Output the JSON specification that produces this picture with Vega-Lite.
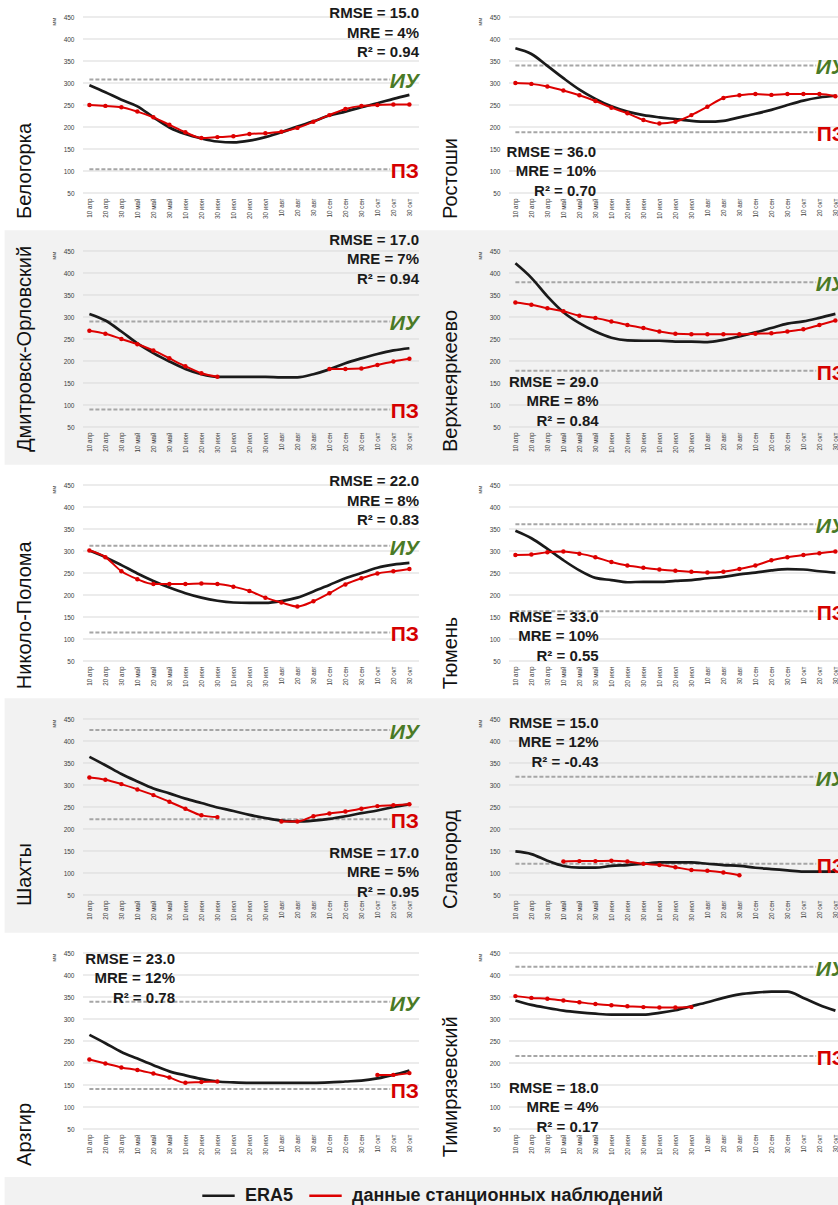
{
"$schema":"https://vega.github.io/schema/vega-lite/v6.json",
"background":"white",
"padding":{"left":4,"top":6,"right":0,"bottom":0},
"bounds":"flush",
"columns":2,
"spacing":{"row":58,"column":90},
"params":[{"name":"lab","value":["10 апр","20 апр","30 апр","10 май","20 май","30 май","10 июн","20 июн","30 июн","10 июл","20 июл","30 июл","10 авг","20 авг","30 авг","10 сен","20 сен","30 сен","10 окт","20 окт","30 окт"]}],
"config":{
"view":{"stroke":null},
"font":"Liberation Sans",
"axis":{"domain":false,"ticks":false,"grid":false,"labelFont":"Liberation Sans","titleFont":"Liberation Sans","labelFontSize":6.5,"labelColor":"#404040","labelFlush":false,"labelOverlap":false,"labelBound":false,"titleFontSize":6,"titleFontWeight":"normal","titleColor":"#404040"},
"axisX":{"labelAngle":270,"labelFontSize":6.3,"labelPadding":5},
"axisY":{"labelPadding":9,"titleAnchor":"end","titlePadding":7},
"legend":{"orient":"none","legendX":118,"legendY":1161,"direction":"horizontal","labelFont":"Liberation Sans","labelFontSize":18,"labelFontWeight":"bold","labelColor":"#1a1a1a","labelLimit":500,"symbolType":"stroke","symbolSize":1050,"symbolStrokeWidth":2.5,"labelOffset":9,"columnPadding":10,"padding":0}
},
"datasets":{
"grid":[{"v":50},{"v":100},{"v":150},{"v":200},{"v":250},{"v":300},{"v":350},{"v":400},{"v":450}],
"thr":[
{"st":"Белогорка","k":"ИУ","v":308},{"st":"Белогорка","k":"ПЗ","v":104},
{"st":"Ростоши","k":"ИУ","v":340},{"st":"Ростоши","k":"ПЗ","v":188},
{"st":"Дмитровск-Орловский","k":"ИУ","v":290},{"st":"Дмитровск-Орловский","k":"ПЗ","v":90},
{"st":"Верхнеяркеево","k":"ИУ","v":379},{"st":"Верхнеяркеево","k":"ПЗ","v":178},
{"st":"Николо-Полома","k":"ИУ","v":312},{"st":"Николо-Полома","k":"ПЗ","v":115},
{"st":"Тюмень","k":"ИУ","v":361},{"st":"Тюмень","k":"ПЗ","v":163},
{"st":"Шахты","k":"ИУ","v":425},{"st":"Шахты","k":"ПЗ","v":222},
{"st":"Славгород","k":"ИУ","v":319},{"st":"Славгород","k":"ПЗ","v":121},
{"st":"Арзгир","k":"ИУ","v":339},{"st":"Арзгир","k":"ПЗ","v":141},
{"st":"Тимирязевский","k":"ИУ","v":419},{"st":"Тимирязевский","k":"ПЗ","v":216}],
"stat":[
{"st":"Белогорка","t":"RMSE = 15.0\nMRE = 4%\nR² = 0.94"},
{"st":"Ростоши","t":"RMSE = 36.0\nMRE = 10%\nR² = 0.70"},
{"st":"Дмитровск-Орловский","t":"RMSE = 17.0\nMRE = 7%\nR² = 0.94"},
{"st":"Верхнеяркеево","t":"RMSE = 29.0\nMRE = 8%\nR² = 0.84"},
{"st":"Николо-Полома","t":"RMSE = 22.0\nMRE = 8%\nR² = 0.83"},
{"st":"Тюмень","t":"RMSE = 33.0\nMRE = 10%\nR² = 0.55"},
{"st":"Шахты","t":"RMSE = 17.0\nMRE = 5%\nR² = 0.95"},
{"st":"Славгород","t":"RMSE =  15.0\nMRE = 12%\nR² = -0.43"},
{"st":"Арзгир","t":"RMSE = 23.0\nMRE = 12%\nR² = 0.78"},
{"st":"Тимирязевский","t":"RMSE = 18.0\nMRE = 4%\nR² = 0.17"}],
"era":[
{"st":"Белогорка","i":1,"v":295},{"st":"Белогорка","i":2,"v":279},{"st":"Белогорка","i":3,"v":262},{"st":"Белогорка","i":4,"v":247},{"st":"Белогорка","i":5,"v":222},{"st":"Белогорка","i":6,"v":199},{"st":"Белогорка","i":7,"v":184},{"st":"Белогорка","i":8,"v":174},{"st":"Белогорка","i":9,"v":167},{"st":"Белогорка","i":10,"v":165},{"st":"Белогорка","i":11,"v":169},{"st":"Белогорка","i":12,"v":177},{"st":"Белогорка","i":13,"v":188},{"st":"Белогорка","i":14,"v":201},{"st":"Белогорка","i":15,"v":213},{"st":"Белогорка","i":16,"v":226},{"st":"Белогорка","i":17,"v":235},{"st":"Белогорка","i":18,"v":245},{"st":"Белогорка","i":19,"v":254},{"st":"Белогорка","i":20,"v":264},{"st":"Белогорка","i":21,"v":273},
{"st":"Ростоши","i":1,"v":379},{"st":"Ростоши","i":2,"v":366},{"st":"Ростоши","i":3,"v":339},{"st":"Ростоши","i":4,"v":311},{"st":"Ростоши","i":5,"v":285},{"st":"Ростоши","i":6,"v":264},{"st":"Ростоши","i":7,"v":247},{"st":"Ростоши","i":8,"v":235},{"st":"Ростоши","i":9,"v":227},{"st":"Ростоши","i":10,"v":222},{"st":"Ростоши","i":11,"v":218},{"st":"Ростоши","i":12,"v":214},{"st":"Ростоши","i":13,"v":212},{"st":"Ростоши","i":14,"v":214},{"st":"Ростоши","i":15,"v":222},{"st":"Ростоши","i":16,"v":230},{"st":"Ростоши","i":17,"v":239},{"st":"Ростоши","i":18,"v":250},{"st":"Ростоши","i":19,"v":260},{"st":"Ростоши","i":20,"v":267},{"st":"Ростоши","i":21,"v":271},
{"st":"Дмитровск-Орловский","i":1,"v":307},{"st":"Дмитровск-Орловский","i":2,"v":292},{"st":"Дмитровск-Орловский","i":3,"v":267},{"st":"Дмитровск-Орловский","i":4,"v":240},{"st":"Дмитровск-Орловский","i":5,"v":218},{"st":"Дмитровск-Орловский","i":6,"v":199},{"st":"Дмитровск-Орловский","i":7,"v":182},{"st":"Дмитровск-Орловский","i":8,"v":170},{"st":"Дмитровск-Орловский","i":9,"v":164},{"st":"Дмитровск-Орловский","i":10,"v":164},{"st":"Дмитровск-Орловский","i":11,"v":164},{"st":"Дмитровск-Орловский","i":12,"v":164},{"st":"Дмитровск-Орловский","i":13,"v":163},{"st":"Дмитровск-Орловский","i":14,"v":163},{"st":"Дмитровск-Орловский","i":15,"v":170},{"st":"Дмитровск-Орловский","i":16,"v":181},{"st":"Дмитровск-Орловский","i":17,"v":195},{"st":"Дмитровск-Орловский","i":18,"v":206},{"st":"Дмитровск-Орловский","i":19,"v":216},{"st":"Дмитровск-Орловский","i":20,"v":224},{"st":"Дмитровск-Орловский","i":21,"v":229},
{"st":"Верхнеяркеево","i":1,"v":422},{"st":"Верхнеяркеево","i":2,"v":389},{"st":"Верхнеяркеево","i":3,"v":347},{"st":"Верхнеяркеево","i":4,"v":311},{"st":"Верхнеяркеево","i":5,"v":286},{"st":"Верхнеяркеево","i":6,"v":267},{"st":"Верхнеяркеево","i":7,"v":253},{"st":"Верхнеяркеево","i":8,"v":247},{"st":"Верхнеяркеево","i":9,"v":246},{"st":"Верхнеяркеево","i":10,"v":246},{"st":"Верхнеяркеево","i":11,"v":244},{"st":"Верхнеяркеево","i":12,"v":244},{"st":"Верхнеяркеево","i":13,"v":243},{"st":"Верхнеяркеево","i":14,"v":248},{"st":"Верхнеяркеево","i":15,"v":256},{"st":"Верхнеяркеево","i":16,"v":265},{"st":"Верхнеяркеево","i":17,"v":275},{"st":"Верхнеяркеево","i":18,"v":285},{"st":"Верхнеяркеево","i":19,"v":290},{"st":"Верхнеяркеево","i":20,"v":298},{"st":"Верхнеяркеево","i":21,"v":307},
{"st":"Николо-Полома","i":1,"v":301},{"st":"Николо-Полома","i":2,"v":286},{"st":"Николо-Полома","i":3,"v":268},{"st":"Николо-Полома","i":4,"v":249},{"st":"Николо-Полома","i":5,"v":232},{"st":"Николо-Полома","i":6,"v":217},{"st":"Николо-Полома","i":7,"v":204},{"st":"Николо-Полома","i":8,"v":194},{"st":"Николо-Полома","i":9,"v":187},{"st":"Николо-Полома","i":10,"v":183},{"st":"Николо-Полома","i":11,"v":182},{"st":"Николо-Полома","i":12,"v":182},{"st":"Николо-Полома","i":13,"v":186},{"st":"Николо-Полома","i":14,"v":194},{"st":"Николо-Полома","i":15,"v":208},{"st":"Николо-Полома","i":16,"v":223},{"st":"Николо-Полома","i":17,"v":238},{"st":"Николо-Полома","i":18,"v":250},{"st":"Николо-Полома","i":19,"v":262},{"st":"Николо-Полома","i":20,"v":269},{"st":"Николо-Полома","i":21,"v":273},
{"st":"Тюмень","i":1,"v":346},{"st":"Тюмень","i":2,"v":329},{"st":"Тюмень","i":3,"v":305},{"st":"Тюмень","i":4,"v":279},{"st":"Тюмень","i":5,"v":256},{"st":"Тюмень","i":6,"v":239},{"st":"Тюмень","i":7,"v":234},{"st":"Тюмень","i":8,"v":229},{"st":"Тюмень","i":9,"v":230},{"st":"Тюмень","i":10,"v":230},{"st":"Тюмень","i":11,"v":232},{"st":"Тюмень","i":12,"v":234},{"st":"Тюмень","i":13,"v":238},{"st":"Тюмень","i":14,"v":241},{"st":"Тюмень","i":15,"v":247},{"st":"Тюмень","i":16,"v":251},{"st":"Тюмень","i":17,"v":256},{"st":"Тюмень","i":18,"v":259},{"st":"Тюмень","i":19,"v":258},{"st":"Тюмень","i":20,"v":254},{"st":"Тюмень","i":21,"v":251},
{"st":"Шахты","i":1,"v":364},{"st":"Шахты","i":2,"v":345},{"st":"Шахты","i":3,"v":325},{"st":"Шахты","i":4,"v":308},{"st":"Шахты","i":5,"v":292},{"st":"Шахты","i":6,"v":281},{"st":"Шахты","i":7,"v":269},{"st":"Шахты","i":8,"v":259},{"st":"Шахты","i":9,"v":249},{"st":"Шахты","i":10,"v":241},{"st":"Шахты","i":11,"v":232},{"st":"Шахты","i":12,"v":225},{"st":"Шахты","i":13,"v":219},{"st":"Шахты","i":14,"v":217},{"st":"Шахты","i":15,"v":219},{"st":"Шахты","i":16,"v":223},{"st":"Шахты","i":17,"v":229},{"st":"Шахты","i":18,"v":236},{"st":"Шахты","i":19,"v":242},{"st":"Шахты","i":20,"v":250},{"st":"Шахты","i":21,"v":256},
{"st":"Славгород","i":1,"v":149},{"st":"Славгород","i":2,"v":143},{"st":"Славгород","i":3,"v":128},{"st":"Славгород","i":4,"v":116},{"st":"Славгород","i":5,"v":112},{"st":"Славгород","i":6,"v":112},{"st":"Славгород","i":7,"v":116},{"st":"Славгород","i":8,"v":118},{"st":"Славгород","i":9,"v":121},{"st":"Славгород","i":10,"v":124},{"st":"Славгород","i":11,"v":124},{"st":"Славгород","i":12,"v":124},{"st":"Славгород","i":13,"v":121},{"st":"Славгород","i":14,"v":118},{"st":"Славгород","i":15,"v":116},{"st":"Славгород","i":16,"v":112},{"st":"Славгород","i":17,"v":109},{"st":"Славгород","i":18,"v":106},{"st":"Славгород","i":19,"v":103},{"st":"Славгород","i":20,"v":103},{"st":"Славгород","i":21,"v":103},
{"st":"Арзгир","i":1,"v":264},{"st":"Арзгир","i":2,"v":245},{"st":"Арзгир","i":3,"v":225},{"st":"Арзгир","i":4,"v":210},{"st":"Арзгир","i":5,"v":195},{"st":"Арзгир","i":6,"v":181},{"st":"Арзгир","i":7,"v":172},{"st":"Арзгир","i":8,"v":164},{"st":"Арзгир","i":9,"v":158},{"st":"Арзгир","i":10,"v":156},{"st":"Арзгир","i":11,"v":155},{"st":"Арзгир","i":12,"v":155},{"st":"Арзгир","i":13,"v":155},{"st":"Арзгир","i":14,"v":155},{"st":"Арзгир","i":15,"v":155},{"st":"Арзгир","i":16,"v":156},{"st":"Арзгир","i":17,"v":158},{"st":"Арзгир","i":18,"v":160},{"st":"Арзгир","i":19,"v":165},{"st":"Арзгир","i":20,"v":173},{"st":"Арзгир","i":21,"v":183},
{"st":"Тимирязевский","i":1,"v":342},{"st":"Тимирязевский","i":2,"v":332},{"st":"Тимирязевский","i":3,"v":325},{"st":"Тимирязевский","i":4,"v":319},{"st":"Тимирязевский","i":5,"v":315},{"st":"Тимирязевский","i":6,"v":312},{"st":"Тимирязевский","i":7,"v":310},{"st":"Тимирязевский","i":8,"v":310},{"st":"Тимирязевский","i":9,"v":310},{"st":"Тимирязевский","i":10,"v":314},{"st":"Тимирязевский","i":11,"v":320},{"st":"Тимирязевский","i":12,"v":329},{"st":"Тимирязевский","i":13,"v":338},{"st":"Тимирязевский","i":14,"v":348},{"st":"Тимирязевский","i":15,"v":356},{"st":"Тимирязевский","i":16,"v":360},{"st":"Тимирязевский","i":17,"v":362},{"st":"Тимирязевский","i":18,"v":362},{"st":"Тимирязевский","i":19,"v":348},{"st":"Тимирязевский","i":20,"v":332},{"st":"Тимирязевский","i":21,"v":319}],
"obs":[
{"st":"Белогорка","g":1,"i":1,"v":250},{"st":"Белогорка","g":1,"i":2,"v":248},{"st":"Белогорка","g":1,"i":3,"v":245},{"st":"Белогорка","g":1,"i":4,"v":235},{"st":"Белогорка","g":1,"i":5,"v":222},{"st":"Белогорка","g":1,"i":6,"v":205},{"st":"Белогорка","g":1,"i":7,"v":188},{"st":"Белогорка","g":1,"i":8,"v":175},{"st":"Белогорка","g":1,"i":9,"v":177},{"st":"Белогорка","g":1,"i":10,"v":179},{"st":"Белогорка","g":1,"i":11,"v":184},{"st":"Белогорка","g":1,"i":12,"v":186},{"st":"Белогорка","g":1,"i":13,"v":189},{"st":"Белогорка","g":1,"i":14,"v":198},{"st":"Белогорка","g":1,"i":15,"v":212},{"st":"Белогорка","g":1,"i":16,"v":227},{"st":"Белогорка","g":1,"i":17,"v":241},{"st":"Белогорка","g":1,"i":18,"v":248},{"st":"Белогорка","g":1,"i":19,"v":250},{"st":"Белогорка","g":1,"i":20,"v":251},{"st":"Белогорка","g":1,"i":21,"v":251},
{"st":"Ростоши","g":1,"i":1,"v":300},{"st":"Ростоши","g":1,"i":2,"v":298},{"st":"Ростоши","g":1,"i":3,"v":292},{"st":"Ростоши","g":1,"i":4,"v":283},{"st":"Ростоши","g":1,"i":5,"v":272},{"st":"Ростоши","g":1,"i":6,"v":259},{"st":"Ростоши","g":1,"i":7,"v":244},{"st":"Ростоши","g":1,"i":8,"v":231},{"st":"Ростоши","g":1,"i":9,"v":216},{"st":"Ростоши","g":1,"i":10,"v":208},{"st":"Ростоши","g":1,"i":11,"v":212},{"st":"Ростоши","g":1,"i":12,"v":227},{"st":"Ростоши","g":1,"i":13,"v":246},{"st":"Ростоши","g":1,"i":14,"v":266},{"st":"Ростоши","g":1,"i":15,"v":272},{"st":"Ростоши","g":1,"i":16,"v":275},{"st":"Ростоши","g":1,"i":17,"v":273},{"st":"Ростоши","g":1,"i":18,"v":275},{"st":"Ростоши","g":1,"i":19,"v":275},{"st":"Ростоши","g":1,"i":20,"v":275},{"st":"Ростоши","g":1,"i":21,"v":270},
{"st":"Дмитровск-Орловский","g":1,"i":1,"v":269},{"st":"Дмитровск-Орловский","g":1,"i":2,"v":262},{"st":"Дмитровск-Орловский","g":1,"i":3,"v":250},{"st":"Дмитровск-Орловский","g":1,"i":4,"v":238},{"st":"Дмитровск-Орловский","g":1,"i":5,"v":224},{"st":"Дмитровск-Орловский","g":1,"i":6,"v":206},{"st":"Дмитровск-Орловский","g":1,"i":7,"v":188},{"st":"Дмитровск-Орловский","g":1,"i":8,"v":172},{"st":"Дмитровск-Орловский","g":1,"i":9,"v":164},
{"st":"Дмитровск-Орловский","g":2,"i":16,"v":182},{"st":"Дмитровск-Орловский","g":2,"i":17,"v":182},{"st":"Дмитровск-Орловский","g":2,"i":18,"v":183},{"st":"Дмитровск-Орловский","g":2,"i":19,"v":191},{"st":"Дмитровск-Орловский","g":2,"i":20,"v":199},{"st":"Дмитровск-Орловский","g":2,"i":21,"v":205},
{"st":"Верхнеяркеево","g":1,"i":1,"v":333},{"st":"Верхнеяркеево","g":1,"i":2,"v":328},{"st":"Верхнеяркеево","g":1,"i":3,"v":320},{"st":"Верхнеяркеево","g":1,"i":4,"v":313},{"st":"Верхнеяркеево","g":1,"i":5,"v":303},{"st":"Верхнеяркеево","g":1,"i":6,"v":298},{"st":"Верхнеяркеево","g":1,"i":7,"v":290},{"st":"Верхнеяркеево","g":1,"i":8,"v":282},{"st":"Верхнеяркеево","g":1,"i":9,"v":275},{"st":"Верхнеяркеево","g":1,"i":10,"v":267},{"st":"Верхнеяркеево","g":1,"i":11,"v":262},{"st":"Верхнеяркеево","g":1,"i":12,"v":261},{"st":"Верхнеяркеево","g":1,"i":13,"v":261},{"st":"Верхнеяркеево","g":1,"i":14,"v":261},{"st":"Верхнеяркеево","g":1,"i":15,"v":261},{"st":"Верхнеяркеево","g":1,"i":16,"v":262},{"st":"Верхнеяркеево","g":1,"i":17,"v":263},{"st":"Верхнеяркеево","g":1,"i":18,"v":267},{"st":"Верхнеяркеево","g":1,"i":19,"v":272},{"st":"Верхнеяркеево","g":1,"i":20,"v":282},{"st":"Верхнеяркеево","g":1,"i":21,"v":292},
{"st":"Николо-Полома","g":1,"i":1,"v":301},{"st":"Николо-Полома","g":1,"i":2,"v":286},{"st":"Николо-Полома","g":1,"i":3,"v":254},{"st":"Николо-Полома","g":1,"i":4,"v":236},{"st":"Николо-Полома","g":1,"i":5,"v":225},{"st":"Николо-Полома","g":1,"i":6,"v":225},{"st":"Николо-Полома","g":1,"i":7,"v":225},{"st":"Николо-Полома","g":1,"i":8,"v":226},{"st":"Николо-Полома","g":1,"i":9,"v":225},{"st":"Николо-Полома","g":1,"i":10,"v":219},{"st":"Николо-Полома","g":1,"i":11,"v":209},{"st":"Николо-Полома","g":1,"i":12,"v":194},{"st":"Николо-Полома","g":1,"i":13,"v":183},{"st":"Николо-Полома","g":1,"i":14,"v":174},{"st":"Николо-Полома","g":1,"i":15,"v":186},{"st":"Николо-Полома","g":1,"i":16,"v":204},{"st":"Николо-Полома","g":1,"i":17,"v":224},{"st":"Николо-Полома","g":1,"i":18,"v":238},{"st":"Николо-Полома","g":1,"i":19,"v":249},{"st":"Николо-Полома","g":1,"i":20,"v":254},{"st":"Николо-Полома","g":1,"i":21,"v":259},
{"st":"Тюмень","g":1,"i":1,"v":291},{"st":"Тюмень","g":1,"i":2,"v":292},{"st":"Тюмень","g":1,"i":3,"v":297},{"st":"Тюмень","g":1,"i":4,"v":299},{"st":"Тюмень","g":1,"i":5,"v":294},{"st":"Тюмень","g":1,"i":6,"v":286},{"st":"Тюмень","g":1,"i":7,"v":275},{"st":"Тюмень","g":1,"i":8,"v":267},{"st":"Тюмень","g":1,"i":9,"v":262},{"st":"Тюмень","g":1,"i":10,"v":258},{"st":"Тюмень","g":1,"i":11,"v":255},{"st":"Тюмень","g":1,"i":12,"v":253},{"st":"Тюмень","g":1,"i":13,"v":251},{"st":"Тюмень","g":1,"i":14,"v":253},{"st":"Тюмень","g":1,"i":15,"v":259},{"st":"Тюмень","g":1,"i":16,"v":267},{"st":"Тюмень","g":1,"i":17,"v":279},{"st":"Тюмень","g":1,"i":18,"v":286},{"st":"Тюмень","g":1,"i":19,"v":291},{"st":"Тюмень","g":1,"i":20,"v":295},{"st":"Тюмень","g":1,"i":21,"v":299},
{"st":"Шахты","g":1,"i":1,"v":317},{"st":"Шахты","g":1,"i":2,"v":312},{"st":"Шахты","g":1,"i":3,"v":302},{"st":"Шахты","g":1,"i":4,"v":290},{"st":"Шахты","g":1,"i":5,"v":277},{"st":"Шахты","g":1,"i":6,"v":262},{"st":"Шахты","g":1,"i":7,"v":246},{"st":"Шахты","g":1,"i":8,"v":231},{"st":"Шахты","g":1,"i":9,"v":227},
{"st":"Шахты","g":2,"i":13,"v":217},{"st":"Шахты","g":2,"i":14,"v":217},{"st":"Шахты","g":2,"i":15,"v":229},{"st":"Шахты","g":2,"i":16,"v":235},{"st":"Шахты","g":2,"i":17,"v":240},{"st":"Шахты","g":2,"i":18,"v":246},{"st":"Шахты","g":2,"i":19,"v":252},{"st":"Шахты","g":2,"i":20,"v":254},{"st":"Шахты","g":2,"i":21,"v":256},
{"st":"Славгород","g":1,"i":4,"v":126},{"st":"Славгород","g":1,"i":5,"v":127},{"st":"Славгород","g":1,"i":6,"v":127},{"st":"Славгород","g":1,"i":7,"v":128},{"st":"Славгород","g":1,"i":8,"v":126},{"st":"Славгород","g":1,"i":9,"v":121},{"st":"Славгород","g":1,"i":10,"v":118},{"st":"Славгород","g":1,"i":11,"v":113},{"st":"Славгород","g":1,"i":12,"v":107},{"st":"Славгород","g":1,"i":13,"v":105},{"st":"Славгород","g":1,"i":14,"v":101},{"st":"Славгород","g":1,"i":15,"v":95},
{"st":"Арзгир","g":1,"i":1,"v":208},{"st":"Арзгир","g":1,"i":2,"v":199},{"st":"Арзгир","g":1,"i":3,"v":190},{"st":"Арзгир","g":1,"i":4,"v":184},{"st":"Арзгир","g":1,"i":5,"v":176},{"st":"Арзгир","g":1,"i":6,"v":167},{"st":"Арзгир","g":1,"i":7,"v":155},{"st":"Арзгир","g":1,"i":8,"v":157},{"st":"Арзгир","g":1,"i":9,"v":158},
{"st":"Арзгир","g":2,"i":19,"v":173},{"st":"Арзгир","g":2,"i":20,"v":173},{"st":"Арзгир","g":2,"i":21,"v":177},
{"st":"Тимирязевский","g":1,"i":1,"v":352},{"st":"Тимирязевский","g":1,"i":2,"v":348},{"st":"Тимирязевский","g":1,"i":3,"v":346},{"st":"Тимирязевский","g":1,"i":4,"v":342},{"st":"Тимирязевский","g":1,"i":5,"v":338},{"st":"Тимирязевский","g":1,"i":6,"v":334},{"st":"Тимирязевский","g":1,"i":7,"v":331},{"st":"Тимирязевский","g":1,"i":8,"v":329},{"st":"Тимирязевский","g":1,"i":9,"v":327},{"st":"Тимирязевский","g":1,"i":10,"v":326},{"st":"Тимирязевский","g":1,"i":11,"v":326},{"st":"Тимирязевский","g":1,"i":12,"v":327}]
},
"concat":[
{"width":336,"height":176,"layer":[
{"data":{"name":"grid"},"mark":{"type":"rule","color":"#d9d9d9","strokeWidth":1},"encoding":{"y":{"field":"v","type":"quantitative"}}},
{"data":{"name":"thr"},"transform":[{"filter":{"field":"st","equal":"Белогорка"}}],"mark":{"type":"rule","color":"#a6a6a6","strokeWidth":2,"strokeDash":[4,2]},"encoding":{"x":{"datum":1},"x2":{"datum":19.8},"y":{"field":"v","type":"quantitative"}}},
{"data":{"name":"era"},"transform":[{"filter":{"field":"st","equal":"Белогорка"}}],"mark":{"type":"line","strokeWidth":2.7,"interpolate":"monotone"},"encoding":{"x":{"field":"i","type":"quantitative","scale":{"domain":[0.6,21.6],"nice":false,"zero":false},"axis":{"values":[1,2,3,4,5,6,7,8,9,10,11,12,13,14,15,16,17,18,19,20,21],"tickCount":40,"labelExpr":"lab[datum.value-1]","labelOverlap":false,"title":null,"zindex":1}},"y":{"field":"v","type":"quantitative","scale":{"domain":[50,450],"nice":false,"zero":false},"axis":{"values":[50,100,150,200,250,300,350,400,450],"tickCount":20,"labelOverlap":false,"title":"мм","zindex":1}},"color":{"datum":"ERA5","scale":{"domain":["ERA5","данные станционных наблюдений"],"range":["#1a1a1a","#dd0000"]},"legend":{"title":null,"zindex":1}}}},
{"data":{"name":"obs"},"transform":[{"filter":{"field":"st","equal":"Белогорка"}}],"mark":{"type":"line","strokeWidth":2,"interpolate":"monotone","point":{"filled":true,"size":20}},"encoding":{"x":{"field":"i","type":"quantitative"},"y":{"field":"v","type":"quantitative"},"detail":{"field":"g","type":"nominal"},"color":{"datum":"данные станционных наблюдений"}}},
{"data":{"name":"thr"},"transform":[{"filter":{"field":"st","equal":"Белогорка"}},{"filter":{"field":"k","equal":"ИУ"}}],"mark":{"type":"text","align":"right","dy":3,"fontSize":21,"fontWeight":"bold","fontStyle":"italic","color":"#4a7a26"},"encoding":{"x":{"datum":21.6},"y":{"field":"v","type":"quantitative"},"text":{"field":"k"}}},
{"data":{"name":"thr"},"transform":[{"filter":{"field":"st","equal":"Белогорка"}},{"filter":{"field":"k","equal":"ПЗ"}}],"mark":{"type":"text","align":"right","dy":3,"fontSize":21,"fontWeight":"bold","color":"#d50000"},"encoding":{"x":{"datum":21.6},"y":{"field":"v","type":"quantitative"},"text":{"field":"k"}}},
{"data":{"name":"stat"},"transform":[{"filter":{"field":"st","equal":"Белогорка"}}],"mark":{"type":"text","align":"right","baseline":"middle","lineBreak":"\n","lineHeight":19.5,"fontSize":15,"fontWeight":"bold","color":"#1a1a1a"},"encoding":{"x":{"datum":21.6},"y":{"datum":459},"text":{"field":"t"}}},
{"data":{"name":"stat"},"transform":[{"filter":{"field":"st","equal":"Белогорка"}}],"mark":{"type":"text","angle":270,"align":"left","baseline":"middle","fontSize":20,"color":"#111111"},"encoding":{"x":{"datum":-3},"y":{"datum":-9},"text":{"field":"st"}}}
]},
{"width":336,"height":176,"layer":[
{"data":{"name":"grid"},"mark":{"type":"rule","color":"#d9d9d9","strokeWidth":1},"encoding":{"y":{"field":"v","type":"quantitative"}}},
{"data":{"name":"thr"},"transform":[{"filter":{"field":"st","equal":"Ростоши"}}],"mark":{"type":"rule","color":"#a6a6a6","strokeWidth":2,"strokeDash":[4,2]},"encoding":{"x":{"datum":1},"x2":{"datum":19.8},"y":{"field":"v","type":"quantitative"}}},
{"data":{"name":"era"},"transform":[{"filter":{"field":"st","equal":"Ростоши"}}],"mark":{"type":"line","strokeWidth":2.7,"interpolate":"monotone"},"encoding":{"x":{"field":"i","type":"quantitative","scale":{"domain":[0.6,21.6],"nice":false,"zero":false},"axis":{"values":[1,2,3,4,5,6,7,8,9,10,11,12,13,14,15,16,17,18,19,20,21],"tickCount":40,"labelExpr":"lab[datum.value-1]","labelOverlap":false,"title":null,"zindex":1}},"y":{"field":"v","type":"quantitative","scale":{"domain":[50,450],"nice":false,"zero":false},"axis":{"values":[50,100,150,200,250,300,350,400,450],"tickCount":20,"labelOverlap":false,"title":"мм","zindex":1}},"color":{"datum":"ERA5","scale":{"domain":["ERA5","данные станционных наблюдений"],"range":["#1a1a1a","#dd0000"]},"legend":{"title":null,"zindex":1}}}},
{"data":{"name":"obs"},"transform":[{"filter":{"field":"st","equal":"Ростоши"}}],"mark":{"type":"line","strokeWidth":2,"interpolate":"monotone","point":{"filled":true,"size":20}},"encoding":{"x":{"field":"i","type":"quantitative"},"y":{"field":"v","type":"quantitative"},"detail":{"field":"g","type":"nominal"},"color":{"datum":"данные станционных наблюдений"}}},
{"data":{"name":"thr"},"transform":[{"filter":{"field":"st","equal":"Ростоши"}},{"filter":{"field":"k","equal":"ИУ"}}],"mark":{"type":"text","align":"right","dy":3,"fontSize":21,"fontWeight":"bold","fontStyle":"italic","color":"#4a7a26"},"encoding":{"x":{"datum":21.6},"y":{"field":"v","type":"quantitative"},"text":{"field":"k"}}},
{"data":{"name":"thr"},"transform":[{"filter":{"field":"st","equal":"Ростоши"}},{"filter":{"field":"k","equal":"ПЗ"}}],"mark":{"type":"text","align":"right","dy":3,"fontSize":21,"fontWeight":"bold","color":"#d50000"},"encoding":{"x":{"datum":21.6},"y":{"field":"v","type":"quantitative"},"text":{"field":"k"}}},
{"data":{"name":"stat"},"transform":[{"filter":{"field":"st","equal":"Ростоши"}}],"mark":{"type":"text","align":"right","baseline":"middle","lineBreak":"\n","lineHeight":19.5,"fontSize":15,"fontWeight":"bold","color":"#1a1a1a"},"encoding":{"x":{"datum":6.05},"y":{"datum":144},"text":{"field":"t"}}},
{"data":{"name":"stat"},"transform":[{"filter":{"field":"st","equal":"Ростоши"}}],"mark":{"type":"text","angle":270,"align":"left","baseline":"middle","fontSize":20,"color":"#111111"},"encoding":{"x":{"datum":-3},"y":{"datum":-9},"text":{"field":"st"}}}
]},
{"width":336,"height":176,"layer":[
{"data":{"values":[{}]},"mark":{"type":"rect","color":"#f2f2f2"},"encoding":{"x":{"datum":-4.3},"x2":{"datum":21.73},"y":{"datum":-36},"y2":{"datum":497}}},
{"data":{"name":"grid"},"mark":{"type":"rule","color":"#d9d9d9","strokeWidth":1},"encoding":{"y":{"field":"v","type":"quantitative"}}},
{"data":{"name":"thr"},"transform":[{"filter":{"field":"st","equal":"Дмитровск-Орловский"}}],"mark":{"type":"rule","color":"#a6a6a6","strokeWidth":2,"strokeDash":[4,2]},"encoding":{"x":{"datum":1},"x2":{"datum":19.8},"y":{"field":"v","type":"quantitative"}}},
{"data":{"name":"era"},"transform":[{"filter":{"field":"st","equal":"Дмитровск-Орловский"}}],"mark":{"type":"line","strokeWidth":2.7,"interpolate":"monotone"},"encoding":{"x":{"field":"i","type":"quantitative","scale":{"domain":[0.6,21.6],"nice":false,"zero":false},"axis":{"values":[1,2,3,4,5,6,7,8,9,10,11,12,13,14,15,16,17,18,19,20,21],"tickCount":40,"labelExpr":"lab[datum.value-1]","labelOverlap":false,"title":null,"zindex":1}},"y":{"field":"v","type":"quantitative","scale":{"domain":[50,450],"nice":false,"zero":false},"axis":{"values":[50,100,150,200,250,300,350,400,450],"tickCount":20,"labelOverlap":false,"title":"мм","zindex":1}},"color":{"datum":"ERA5","scale":{"domain":["ERA5","данные станционных наблюдений"],"range":["#1a1a1a","#dd0000"]},"legend":{"title":null,"zindex":1}}}},
{"data":{"name":"obs"},"transform":[{"filter":{"field":"st","equal":"Дмитровск-Орловский"}}],"mark":{"type":"line","strokeWidth":2,"interpolate":"monotone","point":{"filled":true,"size":20}},"encoding":{"x":{"field":"i","type":"quantitative"},"y":{"field":"v","type":"quantitative"},"detail":{"field":"g","type":"nominal"},"color":{"datum":"данные станционных наблюдений"}}},
{"data":{"name":"thr"},"transform":[{"filter":{"field":"st","equal":"Дмитровск-Орловский"}},{"filter":{"field":"k","equal":"ИУ"}}],"mark":{"type":"text","align":"right","dy":3,"fontSize":21,"fontWeight":"bold","fontStyle":"italic","color":"#4a7a26"},"encoding":{"x":{"datum":21.6},"y":{"field":"v","type":"quantitative"},"text":{"field":"k"}}},
{"data":{"name":"thr"},"transform":[{"filter":{"field":"st","equal":"Дмитровск-Орловский"}},{"filter":{"field":"k","equal":"ПЗ"}}],"mark":{"type":"text","align":"right","dy":3,"fontSize":21,"fontWeight":"bold","color":"#d50000"},"encoding":{"x":{"datum":21.6},"y":{"field":"v","type":"quantitative"},"text":{"field":"k"}}},
{"data":{"name":"stat"},"transform":[{"filter":{"field":"st","equal":"Дмитровск-Орловский"}}],"mark":{"type":"text","align":"right","baseline":"middle","lineBreak":"\n","lineHeight":19.5,"fontSize":15,"fontWeight":"bold","color":"#1a1a1a"},"encoding":{"x":{"datum":21.6},"y":{"datum":476},"text":{"field":"t"}}},
{"data":{"name":"stat"},"transform":[{"filter":{"field":"st","equal":"Дмитровск-Орловский"}}],"mark":{"type":"text","angle":270,"align":"left","baseline":"middle","fontSize":20,"color":"#111111"},"encoding":{"x":{"datum":-3},"y":{"datum":-7},"text":{"field":"st"}}}
]},
{"width":336,"height":176,"layer":[
{"data":{"values":[{}]},"mark":{"type":"rect","color":"#f2f2f2"},"encoding":{"x":{"datum":-4.9},"x2":{"datum":21.6},"y":{"datum":-36},"y2":{"datum":497}}},
{"data":{"name":"grid"},"mark":{"type":"rule","color":"#d9d9d9","strokeWidth":1},"encoding":{"y":{"field":"v","type":"quantitative"}}},
{"data":{"name":"thr"},"transform":[{"filter":{"field":"st","equal":"Верхнеяркеево"}}],"mark":{"type":"rule","color":"#a6a6a6","strokeWidth":2,"strokeDash":[4,2]},"encoding":{"x":{"datum":1},"x2":{"datum":19.8},"y":{"field":"v","type":"quantitative"}}},
{"data":{"name":"era"},"transform":[{"filter":{"field":"st","equal":"Верхнеяркеево"}}],"mark":{"type":"line","strokeWidth":2.7,"interpolate":"monotone"},"encoding":{"x":{"field":"i","type":"quantitative","scale":{"domain":[0.6,21.6],"nice":false,"zero":false},"axis":{"values":[1,2,3,4,5,6,7,8,9,10,11,12,13,14,15,16,17,18,19,20,21],"tickCount":40,"labelExpr":"lab[datum.value-1]","labelOverlap":false,"title":null,"zindex":1}},"y":{"field":"v","type":"quantitative","scale":{"domain":[50,450],"nice":false,"zero":false},"axis":{"values":[50,100,150,200,250,300,350,400,450],"tickCount":20,"labelOverlap":false,"title":"мм","zindex":1}},"color":{"datum":"ERA5","scale":{"domain":["ERA5","данные станционных наблюдений"],"range":["#1a1a1a","#dd0000"]},"legend":{"title":null,"zindex":1}}}},
{"data":{"name":"obs"},"transform":[{"filter":{"field":"st","equal":"Верхнеяркеево"}}],"mark":{"type":"line","strokeWidth":2,"interpolate":"monotone","point":{"filled":true,"size":20}},"encoding":{"x":{"field":"i","type":"quantitative"},"y":{"field":"v","type":"quantitative"},"detail":{"field":"g","type":"nominal"},"color":{"datum":"данные станционных наблюдений"}}},
{"data":{"name":"thr"},"transform":[{"filter":{"field":"st","equal":"Верхнеяркеево"}},{"filter":{"field":"k","equal":"ИУ"}}],"mark":{"type":"text","align":"right","dy":3,"fontSize":21,"fontWeight":"bold","fontStyle":"italic","color":"#4a7a26"},"encoding":{"x":{"datum":21.6},"y":{"field":"v","type":"quantitative"},"text":{"field":"k"}}},
{"data":{"name":"thr"},"transform":[{"filter":{"field":"st","equal":"Верхнеяркеево"}},{"filter":{"field":"k","equal":"ПЗ"}}],"mark":{"type":"text","align":"right","dy":3,"fontSize":21,"fontWeight":"bold","color":"#d50000"},"encoding":{"x":{"datum":21.6},"y":{"field":"v","type":"quantitative"},"text":{"field":"k"}}},
{"data":{"name":"stat"},"transform":[{"filter":{"field":"st","equal":"Верхнеяркеево"}}],"mark":{"type":"text","align":"right","baseline":"middle","lineBreak":"\n","lineHeight":19.5,"fontSize":15,"fontWeight":"bold","color":"#1a1a1a"},"encoding":{"x":{"datum":6.2},"y":{"datum":153},"text":{"field":"t"}}},
{"data":{"name":"stat"},"transform":[{"filter":{"field":"st","equal":"Верхнеяркеево"}}],"mark":{"type":"text","angle":270,"align":"left","baseline":"middle","fontSize":20,"color":"#111111"},"encoding":{"x":{"datum":-3},"y":{"datum":-7},"text":{"field":"st"}}}
]},
{"width":336,"height":176,"layer":[
{"data":{"name":"grid"},"mark":{"type":"rule","color":"#d9d9d9","strokeWidth":1},"encoding":{"y":{"field":"v","type":"quantitative"}}},
{"data":{"name":"thr"},"transform":[{"filter":{"field":"st","equal":"Николо-Полома"}}],"mark":{"type":"rule","color":"#a6a6a6","strokeWidth":2,"strokeDash":[4,2]},"encoding":{"x":{"datum":1},"x2":{"datum":19.8},"y":{"field":"v","type":"quantitative"}}},
{"data":{"name":"era"},"transform":[{"filter":{"field":"st","equal":"Николо-Полома"}}],"mark":{"type":"line","strokeWidth":2.7,"interpolate":"monotone"},"encoding":{"x":{"field":"i","type":"quantitative","scale":{"domain":[0.6,21.6],"nice":false,"zero":false},"axis":{"values":[1,2,3,4,5,6,7,8,9,10,11,12,13,14,15,16,17,18,19,20,21],"tickCount":40,"labelExpr":"lab[datum.value-1]","labelOverlap":false,"title":null,"zindex":1}},"y":{"field":"v","type":"quantitative","scale":{"domain":[50,450],"nice":false,"zero":false},"axis":{"values":[50,100,150,200,250,300,350,400,450],"tickCount":20,"labelOverlap":false,"title":"мм","zindex":1}},"color":{"datum":"ERA5","scale":{"domain":["ERA5","данные станционных наблюдений"],"range":["#1a1a1a","#dd0000"]},"legend":{"title":null,"zindex":1}}}},
{"data":{"name":"obs"},"transform":[{"filter":{"field":"st","equal":"Николо-Полома"}}],"mark":{"type":"line","strokeWidth":2,"interpolate":"monotone","point":{"filled":true,"size":20}},"encoding":{"x":{"field":"i","type":"quantitative"},"y":{"field":"v","type":"quantitative"},"detail":{"field":"g","type":"nominal"},"color":{"datum":"данные станционных наблюдений"}}},
{"data":{"name":"thr"},"transform":[{"filter":{"field":"st","equal":"Николо-Полома"}},{"filter":{"field":"k","equal":"ИУ"}}],"mark":{"type":"text","align":"right","dy":3,"fontSize":21,"fontWeight":"bold","fontStyle":"italic","color":"#4a7a26"},"encoding":{"x":{"datum":21.6},"y":{"field":"v","type":"quantitative"},"text":{"field":"k"}}},
{"data":{"name":"thr"},"transform":[{"filter":{"field":"st","equal":"Николо-Полома"}},{"filter":{"field":"k","equal":"ПЗ"}}],"mark":{"type":"text","align":"right","dy":3,"fontSize":21,"fontWeight":"bold","color":"#d50000"},"encoding":{"x":{"datum":21.6},"y":{"field":"v","type":"quantitative"},"text":{"field":"k"}}},
{"data":{"name":"stat"},"transform":[{"filter":{"field":"st","equal":"Николо-Полома"}}],"mark":{"type":"text","align":"right","baseline":"middle","lineBreak":"\n","lineHeight":19.5,"fontSize":15,"fontWeight":"bold","color":"#1a1a1a"},"encoding":{"x":{"datum":21.6},"y":{"datum":458},"text":{"field":"t"}}},
{"data":{"name":"stat"},"transform":[{"filter":{"field":"st","equal":"Николо-Полома"}}],"mark":{"type":"text","angle":270,"align":"left","baseline":"middle","fontSize":20,"color":"#111111"},"encoding":{"x":{"datum":-3},"y":{"datum":-14},"text":{"field":"st"}}}
]},
{"width":336,"height":176,"layer":[
{"data":{"name":"grid"},"mark":{"type":"rule","color":"#d9d9d9","strokeWidth":1},"encoding":{"y":{"field":"v","type":"quantitative"}}},
{"data":{"name":"thr"},"transform":[{"filter":{"field":"st","equal":"Тюмень"}}],"mark":{"type":"rule","color":"#a6a6a6","strokeWidth":2,"strokeDash":[4,2]},"encoding":{"x":{"datum":1},"x2":{"datum":19.8},"y":{"field":"v","type":"quantitative"}}},
{"data":{"name":"era"},"transform":[{"filter":{"field":"st","equal":"Тюмень"}}],"mark":{"type":"line","strokeWidth":2.7,"interpolate":"monotone"},"encoding":{"x":{"field":"i","type":"quantitative","scale":{"domain":[0.6,21.6],"nice":false,"zero":false},"axis":{"values":[1,2,3,4,5,6,7,8,9,10,11,12,13,14,15,16,17,18,19,20,21],"tickCount":40,"labelExpr":"lab[datum.value-1]","labelOverlap":false,"title":null,"zindex":1}},"y":{"field":"v","type":"quantitative","scale":{"domain":[50,450],"nice":false,"zero":false},"axis":{"values":[50,100,150,200,250,300,350,400,450],"tickCount":20,"labelOverlap":false,"title":"мм","zindex":1}},"color":{"datum":"ERA5","scale":{"domain":["ERA5","данные станционных наблюдений"],"range":["#1a1a1a","#dd0000"]},"legend":{"title":null,"zindex":1}}}},
{"data":{"name":"obs"},"transform":[{"filter":{"field":"st","equal":"Тюмень"}}],"mark":{"type":"line","strokeWidth":2,"interpolate":"monotone","point":{"filled":true,"size":20}},"encoding":{"x":{"field":"i","type":"quantitative"},"y":{"field":"v","type":"quantitative"},"detail":{"field":"g","type":"nominal"},"color":{"datum":"данные станционных наблюдений"}}},
{"data":{"name":"thr"},"transform":[{"filter":{"field":"st","equal":"Тюмень"}},{"filter":{"field":"k","equal":"ИУ"}}],"mark":{"type":"text","align":"right","dy":3,"fontSize":21,"fontWeight":"bold","fontStyle":"italic","color":"#4a7a26"},"encoding":{"x":{"datum":21.6},"y":{"field":"v","type":"quantitative"},"text":{"field":"k"}}},
{"data":{"name":"thr"},"transform":[{"filter":{"field":"st","equal":"Тюмень"}},{"filter":{"field":"k","equal":"ПЗ"}}],"mark":{"type":"text","align":"right","dy":3,"fontSize":21,"fontWeight":"bold","color":"#d50000"},"encoding":{"x":{"datum":21.6},"y":{"field":"v","type":"quantitative"},"text":{"field":"k"}}},
{"data":{"name":"stat"},"transform":[{"filter":{"field":"st","equal":"Тюмень"}}],"mark":{"type":"text","align":"right","baseline":"middle","lineBreak":"\n","lineHeight":19.5,"fontSize":15,"fontWeight":"bold","color":"#1a1a1a"},"encoding":{"x":{"datum":6.2},"y":{"datum":151},"text":{"field":"t"}}},
{"data":{"name":"stat"},"transform":[{"filter":{"field":"st","equal":"Тюмень"}}],"mark":{"type":"text","angle":270,"align":"left","baseline":"middle","fontSize":20,"color":"#111111"},"encoding":{"x":{"datum":-3},"y":{"datum":-14},"text":{"field":"st"}}}
]},
{"width":336,"height":176,"layer":[
{"data":{"values":[{}]},"mark":{"type":"rect","color":"#f2f2f2"},"encoding":{"x":{"datum":-4.3},"x2":{"datum":21.73},"y":{"datum":-36},"y2":{"datum":497}}},
{"data":{"name":"grid"},"mark":{"type":"rule","color":"#d9d9d9","strokeWidth":1},"encoding":{"y":{"field":"v","type":"quantitative"}}},
{"data":{"name":"thr"},"transform":[{"filter":{"field":"st","equal":"Шахты"}}],"mark":{"type":"rule","color":"#a6a6a6","strokeWidth":2,"strokeDash":[4,2]},"encoding":{"x":{"datum":1},"x2":{"datum":19.8},"y":{"field":"v","type":"quantitative"}}},
{"data":{"name":"era"},"transform":[{"filter":{"field":"st","equal":"Шахты"}}],"mark":{"type":"line","strokeWidth":2.7,"interpolate":"monotone"},"encoding":{"x":{"field":"i","type":"quantitative","scale":{"domain":[0.6,21.6],"nice":false,"zero":false},"axis":{"values":[1,2,3,4,5,6,7,8,9,10,11,12,13,14,15,16,17,18,19,20,21],"tickCount":40,"labelExpr":"lab[datum.value-1]","labelOverlap":false,"title":null,"zindex":1}},"y":{"field":"v","type":"quantitative","scale":{"domain":[50,450],"nice":false,"zero":false},"axis":{"values":[50,100,150,200,250,300,350,400,450],"tickCount":20,"labelOverlap":false,"title":"мм","zindex":1}},"color":{"datum":"ERA5","scale":{"domain":["ERA5","данные станционных наблюдений"],"range":["#1a1a1a","#dd0000"]},"legend":{"title":null,"zindex":1}}}},
{"data":{"name":"obs"},"transform":[{"filter":{"field":"st","equal":"Шахты"}}],"mark":{"type":"line","strokeWidth":2,"interpolate":"monotone","point":{"filled":true,"size":20}},"encoding":{"x":{"field":"i","type":"quantitative"},"y":{"field":"v","type":"quantitative"},"detail":{"field":"g","type":"nominal"},"color":{"datum":"данные станционных наблюдений"}}},
{"data":{"name":"thr"},"transform":[{"filter":{"field":"st","equal":"Шахты"}},{"filter":{"field":"k","equal":"ИУ"}}],"mark":{"type":"text","align":"right","dy":3,"fontSize":21,"fontWeight":"bold","fontStyle":"italic","color":"#4a7a26"},"encoding":{"x":{"datum":21.6},"y":{"field":"v","type":"quantitative"},"text":{"field":"k"}}},
{"data":{"name":"thr"},"transform":[{"filter":{"field":"st","equal":"Шахты"}},{"filter":{"field":"k","equal":"ПЗ"}}],"mark":{"type":"text","align":"right","dy":3,"fontSize":21,"fontWeight":"bold","color":"#d50000"},"encoding":{"x":{"datum":21.6},"y":{"field":"v","type":"quantitative"},"text":{"field":"k"}}},
{"data":{"name":"stat"},"transform":[{"filter":{"field":"st","equal":"Шахты"}}],"mark":{"type":"text","align":"right","baseline":"middle","lineBreak":"\n","lineHeight":19.5,"fontSize":15,"fontWeight":"bold","color":"#1a1a1a"},"encoding":{"x":{"datum":21.6},"y":{"datum":146},"text":{"field":"t"}}},
{"data":{"name":"stat"},"transform":[{"filter":{"field":"st","equal":"Шахты"}}],"mark":{"type":"text","angle":270,"align":"left","baseline":"middle","fontSize":20,"color":"#111111"},"encoding":{"x":{"datum":-3},"y":{"datum":25},"text":{"field":"st"}}}
]},
{"width":336,"height":176,"layer":[
{"data":{"values":[{}]},"mark":{"type":"rect","color":"#f2f2f2"},"encoding":{"x":{"datum":-4.9},"x2":{"datum":21.6},"y":{"datum":-36},"y2":{"datum":497}}},
{"data":{"name":"grid"},"mark":{"type":"rule","color":"#d9d9d9","strokeWidth":1},"encoding":{"y":{"field":"v","type":"quantitative"}}},
{"data":{"name":"thr"},"transform":[{"filter":{"field":"st","equal":"Славгород"}}],"mark":{"type":"rule","color":"#a6a6a6","strokeWidth":2,"strokeDash":[4,2]},"encoding":{"x":{"datum":1},"x2":{"datum":19.8},"y":{"field":"v","type":"quantitative"}}},
{"data":{"name":"era"},"transform":[{"filter":{"field":"st","equal":"Славгород"}}],"mark":{"type":"line","strokeWidth":2.7,"interpolate":"monotone"},"encoding":{"x":{"field":"i","type":"quantitative","scale":{"domain":[0.6,21.6],"nice":false,"zero":false},"axis":{"values":[1,2,3,4,5,6,7,8,9,10,11,12,13,14,15,16,17,18,19,20,21],"tickCount":40,"labelExpr":"lab[datum.value-1]","labelOverlap":false,"title":null,"zindex":1}},"y":{"field":"v","type":"quantitative","scale":{"domain":[50,450],"nice":false,"zero":false},"axis":{"values":[50,100,150,200,250,300,350,400,450],"tickCount":20,"labelOverlap":false,"title":"мм","zindex":1}},"color":{"datum":"ERA5","scale":{"domain":["ERA5","данные станционных наблюдений"],"range":["#1a1a1a","#dd0000"]},"legend":{"title":null,"zindex":1}}}},
{"data":{"name":"obs"},"transform":[{"filter":{"field":"st","equal":"Славгород"}}],"mark":{"type":"line","strokeWidth":2,"interpolate":"monotone","point":{"filled":true,"size":20}},"encoding":{"x":{"field":"i","type":"quantitative"},"y":{"field":"v","type":"quantitative"},"detail":{"field":"g","type":"nominal"},"color":{"datum":"данные станционных наблюдений"}}},
{"data":{"name":"thr"},"transform":[{"filter":{"field":"st","equal":"Славгород"}},{"filter":{"field":"k","equal":"ИУ"}}],"mark":{"type":"text","align":"right","dy":3,"fontSize":21,"fontWeight":"bold","fontStyle":"italic","color":"#4a7a26"},"encoding":{"x":{"datum":21.6},"y":{"field":"v","type":"quantitative"},"text":{"field":"k"}}},
{"data":{"name":"thr"},"transform":[{"filter":{"field":"st","equal":"Славгород"}},{"filter":{"field":"k","equal":"ПЗ"}}],"mark":{"type":"text","align":"right","dy":3,"fontSize":21,"fontWeight":"bold","color":"#d50000"},"encoding":{"x":{"datum":21.6},"y":{"field":"v","type":"quantitative"},"text":{"field":"k"}}},
{"data":{"name":"stat"},"transform":[{"filter":{"field":"st","equal":"Славгород"}}],"mark":{"type":"text","align":"right","baseline":"middle","lineBreak":"\n","lineHeight":19.5,"fontSize":15,"fontWeight":"bold","color":"#1a1a1a"},"encoding":{"x":{"datum":6.2},"y":{"datum":442},"text":{"field":"t"}}},
{"data":{"name":"stat"},"transform":[{"filter":{"field":"st","equal":"Славгород"}}],"mark":{"type":"text","angle":270,"align":"left","baseline":"middle","fontSize":20,"color":"#111111"},"encoding":{"x":{"datum":-3},"y":{"datum":18},"text":{"field":"st"}}}
]},
{"width":336,"height":176,"layer":[
{"data":{"values":[{}]},"mark":{"type":"rect","color":"#f2f2f2"},"encoding":{"x":{"datum":-4.3},"x2":{"datum":21.73},"y":{"datum":-130},"y2":{"datum":-59}}},
{"data":{"name":"grid"},"mark":{"type":"rule","color":"#d9d9d9","strokeWidth":1},"encoding":{"y":{"field":"v","type":"quantitative"}}},
{"data":{"name":"thr"},"transform":[{"filter":{"field":"st","equal":"Арзгир"}}],"mark":{"type":"rule","color":"#a6a6a6","strokeWidth":2,"strokeDash":[4,2]},"encoding":{"x":{"datum":1},"x2":{"datum":19.8},"y":{"field":"v","type":"quantitative"}}},
{"data":{"name":"era"},"transform":[{"filter":{"field":"st","equal":"Арзгир"}}],"mark":{"type":"line","strokeWidth":2.7,"interpolate":"monotone"},"encoding":{"x":{"field":"i","type":"quantitative","scale":{"domain":[0.6,21.6],"nice":false,"zero":false},"axis":{"values":[1,2,3,4,5,6,7,8,9,10,11,12,13,14,15,16,17,18,19,20,21],"tickCount":40,"labelExpr":"lab[datum.value-1]","labelOverlap":false,"title":null,"zindex":1}},"y":{"field":"v","type":"quantitative","scale":{"domain":[50,450],"nice":false,"zero":false},"axis":{"values":[50,100,150,200,250,300,350,400,450],"tickCount":20,"labelOverlap":false,"title":"мм","zindex":1}},"color":{"datum":"ERA5","scale":{"domain":["ERA5","данные станционных наблюдений"],"range":["#1a1a1a","#dd0000"]},"legend":{"title":null,"zindex":1}}}},
{"data":{"name":"obs"},"transform":[{"filter":{"field":"st","equal":"Арзгир"}}],"mark":{"type":"line","strokeWidth":2,"interpolate":"monotone","point":{"filled":true,"size":20}},"encoding":{"x":{"field":"i","type":"quantitative"},"y":{"field":"v","type":"quantitative"},"detail":{"field":"g","type":"nominal"},"color":{"datum":"данные станционных наблюдений"}}},
{"data":{"name":"thr"},"transform":[{"filter":{"field":"st","equal":"Арзгир"}},{"filter":{"field":"k","equal":"ИУ"}}],"mark":{"type":"text","align":"right","dy":3,"fontSize":21,"fontWeight":"bold","fontStyle":"italic","color":"#4a7a26"},"encoding":{"x":{"datum":21.6},"y":{"field":"v","type":"quantitative"},"text":{"field":"k"}}},
{"data":{"name":"thr"},"transform":[{"filter":{"field":"st","equal":"Арзгир"}},{"filter":{"field":"k","equal":"ПЗ"}}],"mark":{"type":"text","align":"right","dy":3,"fontSize":21,"fontWeight":"bold","color":"#d50000"},"encoding":{"x":{"datum":21.6},"y":{"field":"v","type":"quantitative"},"text":{"field":"k"}}},
{"data":{"name":"stat"},"transform":[{"filter":{"field":"st","equal":"Арзгир"}}],"mark":{"type":"text","align":"right","baseline":"middle","lineBreak":"\n","lineHeight":19.5,"fontSize":15,"fontWeight":"bold","color":"#1a1a1a"},"encoding":{"x":{"datum":6.35},"y":{"datum":437},"text":{"field":"t"}}},
{"data":{"name":"stat"},"transform":[{"filter":{"field":"st","equal":"Арзгир"}}],"mark":{"type":"text","angle":270,"align":"left","baseline":"middle","fontSize":20,"color":"#111111"},"encoding":{"x":{"datum":-3},"y":{"datum":-34},"text":{"field":"st"}}}
]},
{"width":336,"height":176,"layer":[
{"data":{"values":[{}]},"mark":{"type":"rect","color":"#f2f2f2"},"encoding":{"x":{"datum":-4.9},"x2":{"datum":21.6},"y":{"datum":-130},"y2":{"datum":-59}}},
{"data":{"name":"grid"},"mark":{"type":"rule","color":"#d9d9d9","strokeWidth":1},"encoding":{"y":{"field":"v","type":"quantitative"}}},
{"data":{"name":"thr"},"transform":[{"filter":{"field":"st","equal":"Тимирязевский"}}],"mark":{"type":"rule","color":"#a6a6a6","strokeWidth":2,"strokeDash":[4,2]},"encoding":{"x":{"datum":1},"x2":{"datum":19.8},"y":{"field":"v","type":"quantitative"}}},
{"data":{"name":"era"},"transform":[{"filter":{"field":"st","equal":"Тимирязевский"}}],"mark":{"type":"line","strokeWidth":2.7,"interpolate":"monotone"},"encoding":{"x":{"field":"i","type":"quantitative","scale":{"domain":[0.6,21.6],"nice":false,"zero":false},"axis":{"values":[1,2,3,4,5,6,7,8,9,10,11,12,13,14,15,16,17,18,19,20,21],"tickCount":40,"labelExpr":"lab[datum.value-1]","labelOverlap":false,"title":null,"zindex":1}},"y":{"field":"v","type":"quantitative","scale":{"domain":[50,450],"nice":false,"zero":false},"axis":{"values":[50,100,150,200,250,300,350,400,450],"tickCount":20,"labelOverlap":false,"title":"мм","zindex":1}},"color":{"datum":"ERA5","scale":{"domain":["ERA5","данные станционных наблюдений"],"range":["#1a1a1a","#dd0000"]},"legend":{"title":null,"zindex":1}}}},
{"data":{"name":"obs"},"transform":[{"filter":{"field":"st","equal":"Тимирязевский"}}],"mark":{"type":"line","strokeWidth":2,"interpolate":"monotone","point":{"filled":true,"size":20}},"encoding":{"x":{"field":"i","type":"quantitative"},"y":{"field":"v","type":"quantitative"},"detail":{"field":"g","type":"nominal"},"color":{"datum":"данные станционных наблюдений"}}},
{"data":{"name":"thr"},"transform":[{"filter":{"field":"st","equal":"Тимирязевский"}},{"filter":{"field":"k","equal":"ИУ"}}],"mark":{"type":"text","align":"right","dy":3,"fontSize":21,"fontWeight":"bold","fontStyle":"italic","color":"#4a7a26"},"encoding":{"x":{"datum":21.6},"y":{"field":"v","type":"quantitative"},"text":{"field":"k"}}},
{"data":{"name":"thr"},"transform":[{"filter":{"field":"st","equal":"Тимирязевский"}},{"filter":{"field":"k","equal":"ПЗ"}}],"mark":{"type":"text","align":"right","dy":3,"fontSize":21,"fontWeight":"bold","color":"#d50000"},"encoding":{"x":{"datum":21.6},"y":{"field":"v","type":"quantitative"},"text":{"field":"k"}}},
{"data":{"name":"stat"},"transform":[{"filter":{"field":"st","equal":"Тимирязевский"}}],"mark":{"type":"text","align":"right","baseline":"middle","lineBreak":"\n","lineHeight":19.5,"fontSize":15,"fontWeight":"bold","color":"#1a1a1a"},"encoding":{"x":{"datum":6.2},"y":{"datum":144},"text":{"field":"t"}}},
{"data":{"name":"stat"},"transform":[{"filter":{"field":"st","equal":"Тимирязевский"}}],"mark":{"type":"text","angle":270,"align":"left","baseline":"middle","fontSize":20,"color":"#111111"},"encoding":{"x":{"datum":-3},"y":{"datum":-14},"text":{"field":"st"}}}
]}
]
}
